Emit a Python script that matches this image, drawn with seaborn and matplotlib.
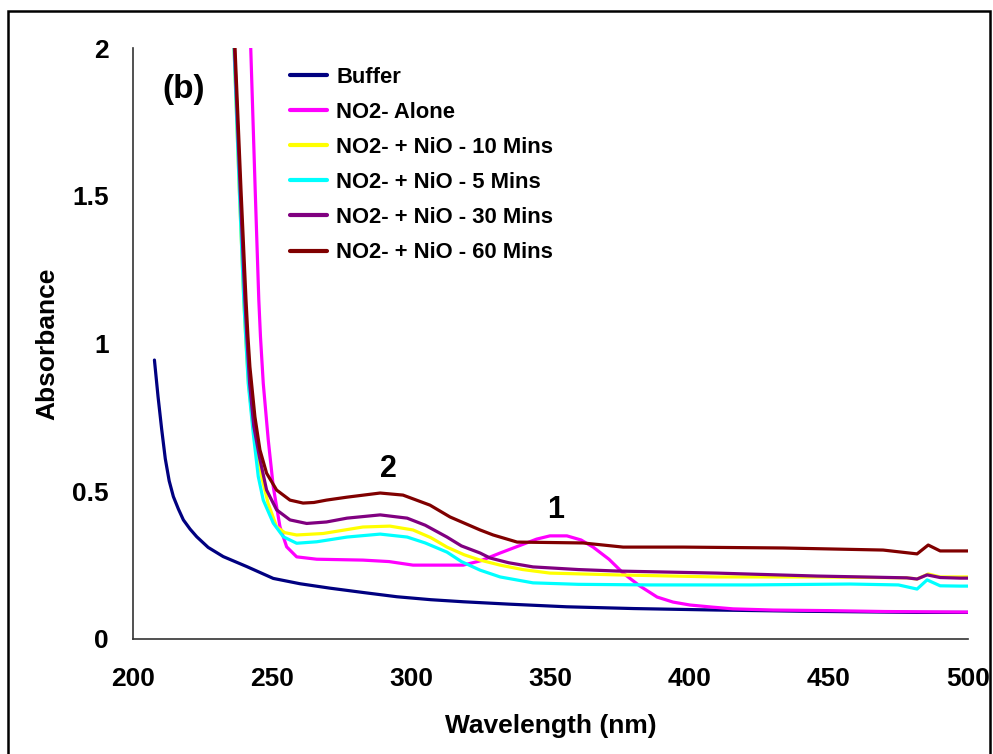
import numpy as np
import pandas as pd
import matplotlib
matplotlib.use("Agg")
import matplotlib.pyplot as plt
from matplotlib.patches import Rectangle
import seaborn as sns

# ---------------- data ----------------
series_names = ["Buffer", "NO2- Alone", "NO2- + NiO - 10 Mins",
                "NO2- + NiO - 5 Mins", "NO2- + NiO - 30 Mins", "NO2- + NiO - 60 Mins"]
series_colors = ["#000080", "#FF00FF", "#FFFF00", "#00FFFF", "#800080", "#800000"]

buffer_x = [207.7, 209.0, 210.3, 211.6, 213.0, 214.5, 216.3, 218.1, 220.5, 222.9, 227, 232.4,
            240.9, 250.4, 260, 270.8, 283, 294.8, 307, 318.7, 335, 355.8, 380, 409.7, 440,
            481.6, 500]
buffer_y = [0.944, 0.82, 0.71, 0.61, 0.535, 0.482, 0.44, 0.403, 0.372, 0.346, 0.31, 0.279,
            0.245, 0.205, 0.187, 0.172, 0.157, 0.143, 0.133, 0.126, 0.118, 0.109, 0.103, 0.098,
            0.094, 0.09, 0.09]

alone_x = [240.7, 242.3, 243.9, 245.2, 245.8, 246.8, 248.6, 250.4, 252.8, 255.2, 258.8, 266,
           282.6, 292, 300.6, 310, 318.6, 325, 331.9, 340, 345, 349.8, 355.9, 361, 365.3, 371,
           376.1, 382, 388.3, 394, 400.1, 408, 415.6, 430, 450, 470, 500]
alone_y = [2.5, 2.0, 1.52, 1.147, 1.023, 0.865, 0.673, 0.515, 0.38, 0.312, 0.278, 0.27,
           0.267, 0.262, 0.25, 0.25, 0.25, 0.265, 0.291, 0.32, 0.338, 0.349, 0.349, 0.335,
           0.311, 0.27, 0.223, 0.18, 0.142, 0.125, 0.115, 0.108, 0.102, 0.098, 0.096, 0.093,
           0.091]

min10_x = [234.4, 236.3, 238.2, 239.8, 240.5, 241.5, 243.4, 246.2, 248.5, 251.6, 254.5, 258.8,
           268.3, 282.6, 292.3, 300.6, 307, 312.8, 319, 324.7, 331.9, 340, 349.8, 373.9, 409.8,
           446, 478, 481.7, 485.7, 490, 500]
min10_y = [2.5, 2.0, 1.52, 1.147, 1.02, 0.865, 0.696, 0.55, 0.46, 0.38, 0.36, 0.352,
           0.357, 0.379, 0.382, 0.369, 0.343, 0.311, 0.285, 0.267, 0.25, 0.235, 0.223, 0.217,
           0.21, 0.21, 0.207, 0.203, 0.22, 0.21, 0.21]

min5_x = [234.4, 236.3, 238.2, 239.8, 240.5, 241.4, 243.2, 245.0, 246.8, 250.4, 254.0, 258.8,
          266.0, 276.9, 288.8, 298.5, 305, 312.8, 318, 324.7, 331.9, 343.7, 360, 385.8, 422,
          457.6, 475, 481.7, 485.3, 490, 497.2, 500]
min5_y = [2.5, 2.0, 1.52, 1.147, 1.02, 0.865, 0.696, 0.55, 0.47, 0.392, 0.346, 0.324,
          0.329, 0.345, 0.355, 0.345, 0.325, 0.294, 0.262, 0.233, 0.21, 0.19, 0.185, 0.183,
          0.183, 0.186, 0.183, 0.169, 0.2, 0.18, 0.179, 0.179]

min30_x = [234.5, 236.45, 238.5, 240.2, 240.9, 241.9, 243.4, 245.4, 248.0, 251.6, 256.4, 262.4,
           269.5, 276.9, 288.8, 298.5, 305, 312.8, 318, 324.7, 328.3, 335, 343.7, 360, 373.9,
           409.8, 445.8, 478, 481.7, 485.3, 490, 497.2, 500]
min30_y = [2.5, 2.0, 1.52, 1.147, 1.023, 0.865, 0.72, 0.617, 0.504, 0.437, 0.403, 0.391,
           0.396, 0.409, 0.42, 0.409, 0.385, 0.345, 0.315, 0.291, 0.274, 0.258, 0.244, 0.235,
           0.23, 0.223, 0.213, 0.207, 0.203, 0.217, 0.208, 0.206, 0.206]

min60_x = [234.5, 236.65, 238.8, 240.6, 241.3, 242.0, 243.8, 245.6, 248.0, 251.6, 256.4, 261.1,
           265, 269.5, 276.9, 288.8, 297.0, 306.7, 313.9, 324.7, 329.4, 338.0, 361.7, 376.1,
           397.6, 433.6, 469.5, 481.7, 485.7, 490, 497.2, 500]
min60_y = [2.5, 2.0, 1.52, 1.147, 1.023, 0.921, 0.752, 0.64, 0.561, 0.504, 0.47, 0.46,
           0.462, 0.47, 0.48, 0.494, 0.487, 0.453, 0.413, 0.369, 0.352, 0.328, 0.325, 0.311,
           0.311, 0.308, 0.301, 0.288, 0.318, 0.298, 0.298, 0.298]

x_ticks = [200, 250, 300, 350, 400, 450, 500]
y_ticks = [0, 0.5, 1, 1.5, 2]
y_tick_labels = ["0", "0.5", "1", "1.5", "2"]

peak_labels = ["2", "1"]
peak_label_x = [291.6, 352]
peak_label_y = [0.575, 0.437]

# ---------------- build long table ----------------
xs = [buffer_x, alone_x, min10_x, min5_x, min30_x, min60_x]
ys = [buffer_y, alone_y, min10_y, min5_y, min30_y, min60_y]
frames = []
for name, x, y in zip(series_names, xs, ys):
    frames.append(pd.DataFrame({"Wavelength": x, "Absorbance": y, "Series": name}))
df = pd.concat(frames, ignore_index=True)

# ---------------- style ----------------
sns.set_style("white")
plt.rcParams["font.family"] = ["Liberation Sans", "DejaVu Sans"]
plt.rcParams["font.weight"] = "bold"
plt.rcParams["text.color"] = "black"
plt.rcParams["axes.labelcolor"] = "black"
plt.rcParams["xtick.labelcolor"] = "black"
plt.rcParams["ytick.labelcolor"] = "black"

fig = plt.figure(figsize=(9.93, 7.54), dpi=100)
ax = fig.add_axes([133 / 993, 1 - 639 / 754, (968 - 133) / 993, (639 - 48) / 754])

sns.lineplot(data=df, x="Wavelength", y="Absorbance", hue="Series",
             hue_order=series_names, palette=series_colors, sort=False,
             estimator=None, linewidth=2.3, ax=ax, legend=True)

ax.set_xlim(200, 500)
ax.set_ylim(0, 2)
ax.set_xticks(x_ticks)
ax.set_xticklabels([str(t) for t in x_ticks])
ax.set_yticks(y_ticks)
ax.set_yticklabels(y_tick_labels)

for s in ["top", "right"]:
    ax.spines[s].set_visible(False)
for s in ["left", "bottom"]:
    ax.spines[s].set_color("#333333")
    ax.spines[s].set_linewidth(1.2)

ax.tick_params(axis="both", direction="out", length=6.5, width=1.2, color="#333333",
               labelsize=19, labelcolor="black")
ax.tick_params(axis="x", pad=14)
ax.tick_params(axis="y", pad=11)
for lab in ax.get_xticklabels() + ax.get_yticklabels():
    lab.set_fontweight("bold")

ax.set_xlabel("Wavelength (nm)", fontsize=19, fontweight="bold", labelpad=16)
ax.set_ylabel("Absorbance", fontsize=19, fontweight="bold", labelpad=9)

ax.text(218.3, 1.86, "(b)", fontsize=24, fontweight="bold", ha="center", va="center")
for t, px, py in zip(peak_labels, peak_label_x, peak_label_y):
    ax.text(px, py, t, fontsize=22, fontweight="bold", ha="center", va="center")

leg = ax.legend(loc="upper left", bbox_to_anchor=(290 / 993, 1 - 67 / 754),
                bbox_transform=fig.transFigure, frameon=False, fontsize=15.8,
                handlelength=1.7, handletextpad=0.4, labelspacing=0.64,
                borderpad=0, borderaxespad=0)
for txt in leg.get_texts():
    txt.set_fontweight("bold")
    txt.set_color("black")
for line in leg.get_lines():
    line.set_linewidth(3)

# outer frame of the figure
fig.patches.append(Rectangle((8 / 993, -0.02), (990 - 8) / 993, 1 - 11 / 754 + 0.02,
                             transform=fig.transFigure, fill=False,
                             edgecolor="black", linewidth=1.8, zorder=10))

fig.savefig("out.png", dpi=100)
